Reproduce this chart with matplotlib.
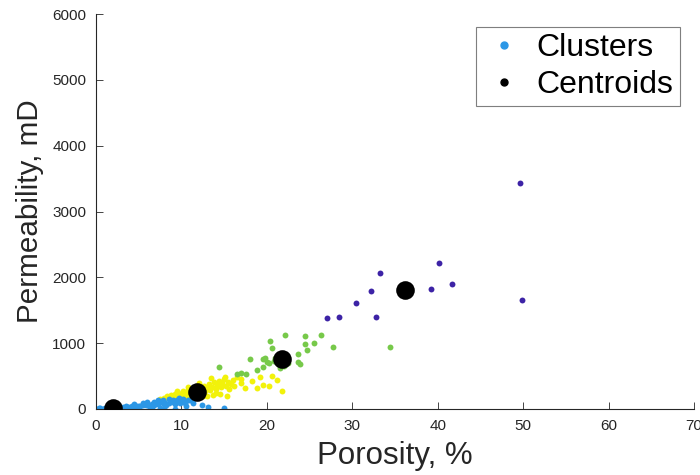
import matplotlib
matplotlib.use("Agg")
import matplotlib.pyplot as plt
from matplotlib.lines import Line2D

plt.rcParams['font.family'] = ['Liberation Sans', 'DejaVu Sans']

# Cluster 1 (blue)
blue_x = [0.2,0.5,0.8,1.0,1.2,1.5,1.8,2.0,2.3,2.5,2.8,3.0,3.2,3.5,3.8,4.0,4.2,4.5,4.8,5.0,
          5.2,5.5,5.8,6.0,6.2,6.5,6.8,7.0,7.2,7.5,7.8,8.0,8.2,8.5,8.8,9.0,9.2,9.5,9.8,10.0,
          10.4,11.3,12.4,13.1,15.0,9.3,7.5,8.0,6.5,10.5,11.0,7.8,
          5.5,6.0,6.8,7.2,7.8,8.5,9.0,9.7,10.2,10.8,4.5,3.5,2.5,1.5,0.5,0.3]
blue_y = [0,5,0,10,3,8,15,5,20,12,25,18,30,22,35,28,40,45,38,50,
          42,60,55,70,48,80,65,90,75,100,85,110,60,95,120,105,70,130,90,115,
          96,86,60,35,10,0,10,20,30,40,130,5,
          90,100,110,130,140,150,140,160,150,140,70,50,40,30,20,10]

# Cluster 2 (yellow)
yel_x = [7.5,8.0,8.3,8.6,8.8,9.0,9.2,9.4,9.6,9.8,10.0,10.2,10.4,10.6,10.8,11.0,11.2,11.4,11.6,11.8,
         12.0,12.2,12.4,12.6,12.8,13.0,13.2,13.4,13.6,13.8,14.0,14.2,14.4,14.6,14.8,15.0,15.2,15.4,15.6,15.8,
         16.0,16.5,17.0,17.4,18.3,18.8,19.2,19.6,20.2,20.6,21.2,21.8,13.5,15.1,14.5,15.3,13.7,12.5,11.5,10.5,
         16.2,17.0,12.0,10.8,14.0,13.0,9.5,11.0]
yel_y = [150,170,190,160,210,180,230,200,250,170,220,270,190,240,290,210,260,310,230,280,
         330,250,300,350,270,320,380,290,340,410,310,360,430,330,390,450,350,410,300,380,
         440,491,400,314,426,314,491,365,354,502,441,274,466,491,228,198,213,190,170,150,
         350,460,390,340,250,200,280,150]

# Cluster 3 (green)
grn_x = [22.1,24.5,26.3,20.4,24.5,25.5,27.8,34.4,20.6,24.7,23.7,18.0,19.6,20.0,20.8,23.7,23.9,21.5,19.5,
         18.8,16.5,17.6,17.0,14.4,21.0,22.5,19.8,22.0,20.2]
grn_y = [1125,1109,1125,1033,983,1008,947,942,922,897,836,765,755,719,734,719,684,619,643,
         593,532,532,540,643,780,700,780,650,700]

# Cluster 4 (purple)
pur_x = [49.6,40.1,33.2,32.2,39.2,41.7,30.4,49.9,27.0,28.4,32.8]
pur_y = [3430,2219,2067,1789,1824,1905,1616,1651,1378,1403,1398]

# Centroids
cen_x = [2.0, 11.8, 21.8, 36.2]
cen_y = [15, 258, 760, 1808]

c_blue = '#2c97e6'
c_yel = '#f2f20a'
c_grn = '#77c94a'
c_pur = '#3d23a6'

fig = plt.figure(figsize=(7.0, 4.75), dpi=100)
ax = fig.add_axes([96/700, 1-409/475, 598/700, 395/475])

s_small = 18
ax.scatter(yel_x, yel_y, s=s_small, c=c_yel, linewidths=0, zorder=2)
ax.scatter(blue_x, blue_y, s=s_small, c=c_blue, linewidths=0, zorder=2)
ax.scatter(grn_x, grn_y, s=s_small, c=c_grn, linewidths=0, zorder=2)
ax.scatter(pur_x, pur_y, s=s_small, c=c_pur, linewidths=0, zorder=2)
ax.scatter(cen_x, cen_y, s=180, c='black', linewidths=0, zorder=3)

ax.set_xlim(0, 70)
ax.set_ylim(0, 6000)
ax.set_xticks(range(0, 71, 10))
ax.set_yticks(range(0, 6001, 1000))
ax.spines['top'].set_visible(False)
ax.spines['right'].set_visible(False)
for sp in ['left', 'bottom']:
    ax.spines[sp].set_color('#262626')
    ax.spines[sp].set_linewidth(0.8)
ax.tick_params(direction='in', length=5, width=0.6, colors='#262626', labelsize=11)
ax.tick_params(axis='y', pad=7)
ax.tick_params(axis='x', pad=7)

ax.set_xlabel('Porosity, %', fontsize=22.5, color='#262626', labelpad=6)
ax.set_ylabel('Permeability, mD', fontsize=21.3, color='#262626', labelpad=6)

handles = [Line2D([], [], linestyle='none', marker='o', markersize=5, color=c_blue),
           Line2D([], [], linestyle='none', marker='o', markersize=5, color='black')]
leg = ax.legend(handles, ['Clusters', 'Centroids'], loc='upper right',
                bbox_to_anchor=((680-96)/598, (409-27)/395), fontsize=23,
                frameon=True, fancybox=False, edgecolor='#7f7f7f', framealpha=1,
                handletextpad=0.35, labelspacing=0.2, borderpad=0.2, handlelength=1.35,
                borderaxespad=0)
leg.get_frame().set_linewidth(0.8)

fig.savefig('out.png', dpi=100)
